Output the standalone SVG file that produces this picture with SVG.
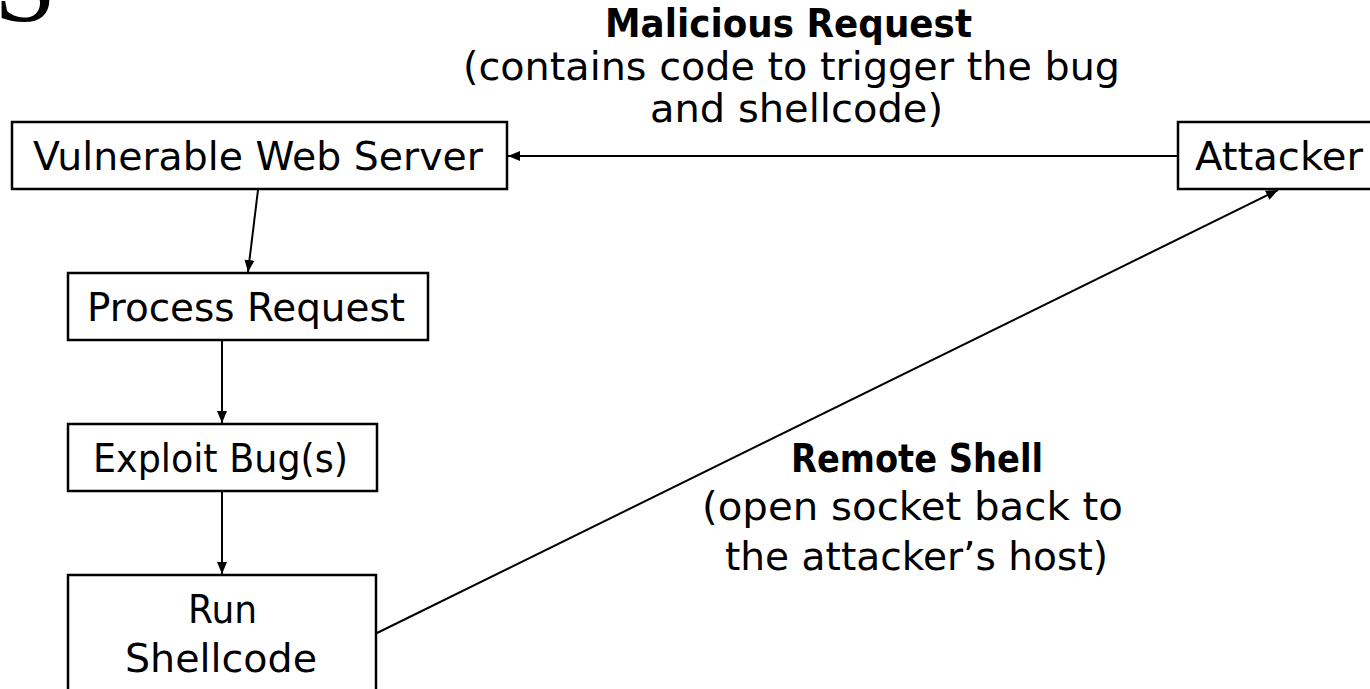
<svg xmlns="http://www.w3.org/2000/svg" width="1370" height="689" viewBox="0 0 1370 689">
<style>
.box{fill:#fff;stroke:#000;stroke-width:2.5}
.t{font-family:"DejaVu Sans",sans-serif;font-size:39px;fill:#000}
.b{font-weight:bold}
.c{stroke:#000;stroke-width:2;fill:none}
.title{font-family:"Liberation Serif",serif;font-size:112px;fill:#000}
</style>
<defs>
<marker id="ah" viewBox="0 0 12 12" refX="12" refY="6" markerWidth="12" markerHeight="12" markerUnits="userSpaceOnUse" orient="auto"><path d="M0,1 L12,6 L0,11 z" fill="#000"/></marker>
</defs>
<rect width="1370" height="689" fill="#fff"/>
<text class="title" x="-6" y="21">S</text>
<g id="connectors">
<line class="c" x1="1178" y1="156" x2="508" y2="156" marker-end="url(#ah)"/>
<line class="c" x1="258" y1="190" x2="248" y2="272" marker-end="url(#ah)"/>
<line class="c" x1="222" y1="340" x2="222" y2="423" marker-end="url(#ah)"/>
<line class="c" x1="222" y1="491" x2="222" y2="574" marker-end="url(#ah)"/>
<line class="c" x1="377" y1="633" x2="1278" y2="190" marker-end="url(#ah)"/>
</g>
<g id="vws"><rect class="box" x="12" y="122" width="495" height="67"/><text class="t" x="33" y="170" textLength="450" lengthAdjust="spacingAndGlyphs">Vulnerable Web Server</text></g>
<g id="attacker"><rect class="box" x="1178" y="122" width="220" height="67"/><text class="t" x="1195" y="170" textLength="168" lengthAdjust="spacingAndGlyphs">Attacker</text></g>
<g id="process"><rect class="box" x="68" y="273" width="360" height="67"/><text class="t" x="87" y="321" textLength="318" lengthAdjust="spacingAndGlyphs">Process Request</text></g>
<g id="exploit"><rect class="box" x="68" y="424" width="309" height="67"/><text class="t" x="93" y="472" textLength="255" lengthAdjust="spacingAndGlyphs">Exploit Bug(s)</text></g>
<g id="run"><rect class="box" x="68" y="575" width="308" height="130"/><text class="t" x="188" y="623" textLength="69" lengthAdjust="spacingAndGlyphs">Run</text><text class="t" x="125" y="672" textLength="192" lengthAdjust="spacingAndGlyphs">Shellcode</text></g>
<g id="label-malicious">
<text class="t b" x="605" y="37" textLength="367" lengthAdjust="spacingAndGlyphs">Malicious Request</text>
<text class="t" x="463" y="80" textLength="657" lengthAdjust="spacingAndGlyphs">(contains code to trigger the bug</text>
<text class="t" x="650" y="122" textLength="293" lengthAdjust="spacingAndGlyphs">and shellcode)</text>
</g>
<g id="label-shell">
<text class="t b" x="791" y="472" textLength="252" lengthAdjust="spacingAndGlyphs">Remote Shell</text>
<text class="t" x="702" y="520" textLength="421" lengthAdjust="spacingAndGlyphs">(open socket back to</text>
<text class="t" x="725" y="570" textLength="383" lengthAdjust="spacingAndGlyphs">the attacker’s host)</text>
</g>
</svg>
